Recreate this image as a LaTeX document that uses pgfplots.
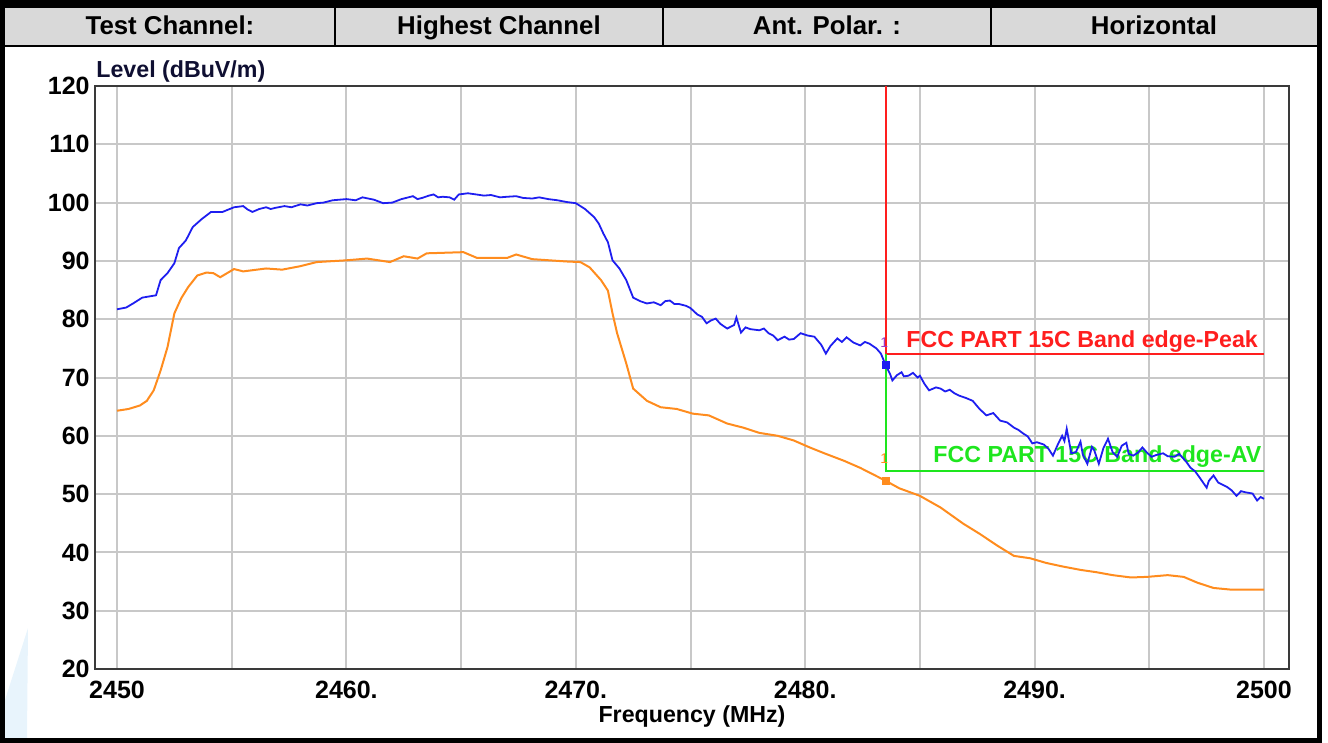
\documentclass[border=0pt]{standalone}
\usepackage{fontspec}
\setmainfont{Liberation Sans}
\usepackage{pgfplots}
\pgfplotsset{compat=1.18}
\definecolor{hdr}{HTML}{D9D9D9}
\definecolor{gridc}{HTML}{C8C8C8}
\definecolor{framec}{HTML}{3A3A3A}
\definecolor{peakblue}{HTML}{1E1EF0}
\definecolor{avorange}{HTML}{FF8C1E}
\definecolor{limred}{HTML}{FF1E1E}
\definecolor{limgreen}{HTML}{1EE61E}
\definecolor{wm}{HTML}{E8F4FC}
\definecolor{mkpurple}{HTML}{9A3CC8}

\pgfplotstableread{
x y
2450.0 81.7
2450.4 82.0
2450.7 82.7
2451.1 83.7
2451.4 83.9
2451.7 84.1
2451.9 86.7
2452.2 87.9
2452.5 89.6
2452.7 92.2
2453.0 93.5
2453.3 95.8
2453.7 97.2
2454.1 98.4
2454.6 98.4
2455.1 99.2
2455.5 99.4
2455.7 98.8
2455.9 98.4
2456.2 98.9
2456.5 99.2
2456.7 98.9
2456.9 99.1
2457.3 99.4
2457.6 99.2
2458.0 99.7
2458.3 99.5
2458.7 99.9
2459.0 100.0
2459.4 100.4
2460.0 100.6
2460.4 100.4
2460.7 100.9
2461.2 100.5
2461.6 99.9
2462.0 100.0
2462.4 100.6
2462.9 101.1
2463.1 100.6
2463.3 100.8
2463.6 101.2
2463.8 101.4
2464.0 100.9
2464.2 101.0
2464.5 100.9
2464.7 100.5
2464.9 101.4
2465.3 101.6
2466.0 101.2
2466.3 101.3
2466.7 100.9
2467.0 101.0
2467.4 101.1
2467.7 100.8
2468.1 100.7
2468.4 100.9
2468.8 100.6
2469.2 100.4
2469.6 100.1
2470.0 99.9
2470.4 98.9
2470.8 97.5
2471.0 96.4
2471.2 94.7
2471.4 93.2
2471.6 90.1
2471.9 88.7
2472.2 86.7
2472.5 83.7
2472.8 83.1
2473.1 82.7
2473.4 82.9
2473.7 82.4
2473.9 83.1
2474.1 83.2
2474.3 82.6
2474.5 82.6
2474.8 82.3
2475.0 81.9
2475.3 80.8
2475.5 80.4
2475.7 79.3
2475.9 79.8
2476.1 80.1
2476.3 79.2
2476.6 78.4
2476.9 79.0
2477.0 80.3
2477.2 77.7
2477.4 78.6
2477.6 78.3
2478.0 78.1
2478.2 78.4
2478.4 77.6
2478.6 77.2
2478.8 76.4
2479.1 77.0
2479.3 76.5
2479.5 76.6
2479.8 77.6
2480.1 77.2
2480.4 77.0
2480.7 75.6
2480.9 74.1
2481.1 75.4
2481.4 76.7
2481.6 76.1
2481.8 76.9
2482.1 76.0
2482.4 75.5
2482.6 76.1
2482.8 75.8
2483.1 75.0
2483.3 74.1
2483.5 72.2
2483.7 70.6
2483.8 69.5
2484.0 70.4
2484.2 70.9
2484.3 70.2
2484.5 70.3
2484.7 70.8
2484.9 70.0
2485.0 70.3
2485.2 68.9
2485.4 67.8
2485.7 68.3
2485.9 68.1
2486.1 67.6
2486.3 67.9
2486.5 67.3
2486.7 66.9
2487.0 66.5
2487.3 66.0
2487.6 64.6
2487.9 63.5
2488.2 63.9
2488.5 62.6
2488.8 62.3
2489.1 61.4
2489.3 61.0
2489.5 60.4
2489.7 59.9
2489.9 58.7
2490.1 58.9
2490.4 58.5
2490.6 57.8
2490.8 56.6
2491.0 58.4
2491.2 60.0
2491.3 59.1
2491.4 61.2
2491.6 57.0
2491.8 57.2
2492.0 59.0
2492.1 56.8
2492.3 55.2
2492.5 58.1
2492.6 57.5
2492.8 55.2
2493.0 57.9
2493.2 59.5
2493.4 57.2
2493.6 56.4
2493.8 58.3
2494.0 58.8
2494.1 56.9
2494.3 56.6
2494.5 57.1
2494.7 58.0
2494.9 57.1
2495.1 56.4
2495.3 56.7
2495.6 57.0
2495.8 56.5
2496.1 56.4
2496.3 56.9
2496.6 55.6
2496.8 54.5
2497.0 53.9
2497.2 52.8
2497.5 51.1
2497.6 52.3
2497.8 53.2
2498.0 52.0
2498.1 51.8
2498.4 51.2
2498.6 50.6
2498.8 49.7
2499.0 50.5
2499.2 50.3
2499.5 50.1
2499.7 48.9
2499.85 49.5
2500.0 49.2
}\peaktable

\pgfplotstableread{
x y
2450.0 64.3
2450.5 64.6
2451.0 65.2
2451.3 66.0
2451.6 67.8
2451.9 71.2
2452.2 75.2
2452.5 81.0
2452.8 83.6
2453.1 85.5
2453.5 87.5
2453.9 88.0
2454.2 87.9
2454.5 87.2
2455.1 88.6
2455.5 88.2
2456.5 88.7
2457.2 88.5
2458.0 89.1
2458.7 89.8
2460.0 90.1
2460.9 90.4
2461.9 89.8
2462.5 90.8
2463.1 90.4
2463.5 91.3
2465.1 91.5
2465.7 90.5
2467.0 90.5
2467.4 91.1
2468.1 90.3
2469.6 89.9
2470.2 89.8
2470.6 88.9
2471.1 86.7
2471.4 84.9
2471.6 81.0
2471.8 77.6
2472.2 72.4
2472.5 68.1
2473.1 66.0
2473.7 64.9
2474.4 64.6
2475.1 63.8
2475.8 63.5
2476.6 62.1
2477.3 61.4
2478.0 60.5
2478.8 60.0
2479.5 59.2
2480.2 58.0
2480.9 56.9
2481.7 55.7
2482.4 54.5
2483.0 53.3
2483.5 52.3
2484.1 51.0
2485.0 49.7
2485.9 47.7
2486.9 44.9
2487.6 43.2
2488.4 41.1
2489.1 39.4
2489.8 39.0
2490.5 38.2
2491.2 37.6
2492.0 37.0
2492.7 36.6
2493.4 36.1
2494.2 35.7
2494.9 35.8
2495.8 36.1
2496.5 35.8
2497.1 34.8
2497.8 33.9
2498.6 33.6
2500.0 33.6
}\avtable

\begin{document}
\begin{tikzpicture}
\useasboundingbox (0,0) rectangle (664pt,-371.5pt);
\begin{scope}[x=0.5pt,y=-0.5pt]
  \fill[wm] (5,700) -- (28,628) -- (27,738) -- (5,738) -- cycle;
  \fill[hdr] (5,8) rectangle (1317,45);
  \fill[black] (0,0) rectangle (1322,8);
  \fill[black] (0,0) rectangle (5,743);
  \fill[black] (1317,0) rectangle (1322,743);
  \fill[black] (0,738) rectangle (1322,743);
  \fill[black] (5,45) rectangle (1317,47);
  \foreach \xx in {335,663,991} \draw[black, line width=0.8pt] (\xx,8) -- (\xx,45);
  \begin{scope}[every node/.style={font=\fontsize{12.9}{14}\selectfont\bfseries, inner sep=0pt, anchor=base}]
    \node at (170,35) {Test Channel:};
    \node at (499,35) {Highest Channel};
    \node at (827,35) {Ant. Polar. :};
    \node at (1154,35) {Horizontal};
  \end{scope}
  \node[anchor=base west, inner sep=0pt, font=\fontsize{11.6}{13}\selectfont\bfseries, text={rgb,255:red,15;green,15;blue,50}] at (96,78) {Level (dBuV/m)};
\end{scope}
\begin{axis}[
  at={(47.5pt,-334.5pt)}, anchor=south west,
  scale only axis, width=597pt, height=291.5pt,
  xmin=2449.04, xmax=2501.09, ymin=20, ymax=120,
  xtick={2450,2460,...,2500},
  xticklabels={2450,2460.,2470.,2480.,2490.,2500},
  minor xtick={2455,2465,...,2495},
  ytick={20,30,...,120},
  grid=both,
  major grid style={gridc, line width=1pt},
  minor grid style={gridc, line width=1pt},
  major tick length=0pt, minor tick length=0pt,
  axis line style={framec, line width=1.3pt},
  /pgf/number format/assume math mode=true,
  ticklabel style={font=\fontsize{12.5}{14}\selectfont\bfseries, text=black},
  xticklabel style={anchor=base, yshift=-14.5pt},
  yticklabel style={anchor=east, inner sep=1pt, xshift=-1.5pt},
  xlabel={Frequency (MHz)},
  xlabel style={at={(axis description cs:0.5,0)}, anchor=center, yshift=-23.5pt, font=\fontsize{11.6}{13}\selectfont\bfseries, text=black},
  clip=false,
]
\addplot[limred, line width=1pt] coordinates {(2483.5,120) (2483.5,74) (2500,74)};
\addplot[limgreen, line width=1pt] coordinates {(2483.5,74) (2483.5,54) (2500,54)};
\node[anchor=base east, inner sep=0pt, text=limred, font=\fontsize{11.6}{13}\selectfont\bfseries] at (axis cs:2499.75,75.1) {FCC PART 15C Band edge-Peak};
\node[anchor=base east, inner sep=0pt, text=limgreen, font=\fontsize{11.6}{13}\selectfont\bfseries] at (axis cs:2499.9,55.4) {FCC PART 15C Band edge-AV};
\addplot[avorange, line width=1pt] table[x=x,y=y] {\avtable};
\addplot[peakblue, line width=0.9pt] table[x=x,y=y] {\peaktable};
\addplot[only marks, mark=square*, mark size=1.8pt, peakblue] coordinates {(2483.5,72.2)};
\addplot[only marks, mark=square*, mark size=1.8pt, avorange] coordinates {(2483.5,52.3)};
\node[inner sep=0pt, text=mkpurple, font=\fontsize{7}{8}\selectfont] at (axis cs:2483.45,75.9) {1};
\node[inner sep=0pt, text=avorange, font=\fontsize{7}{8}\selectfont] at (axis cs:2483.45,56.1) {1};
\end{axis}
\end{tikzpicture}
\end{document}
